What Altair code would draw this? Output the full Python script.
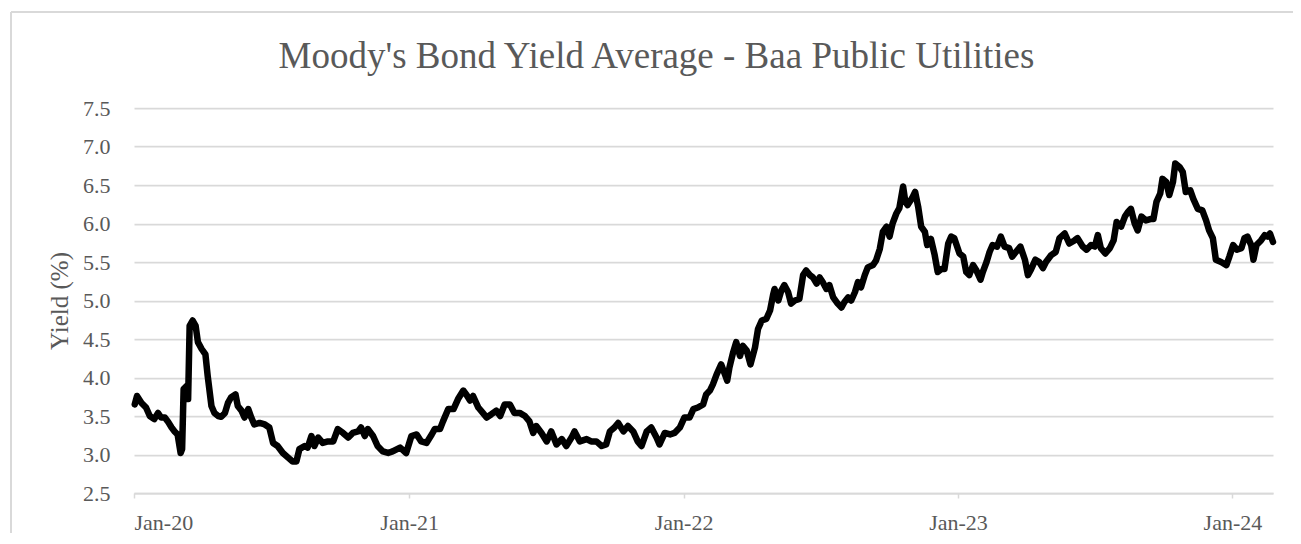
import altair as alt
import pandas as pd

# Days since 2020-01-01
days = [1, 4, 10, 16, 21, 27, 32, 36, 41, 45, 50, 54, 58, 62, 64, 66, 70, 72, 74, 78,
        82, 85, 90, 95, 98, 103, 107, 112, 116, 121, 125, 129, 135, 138, 143, 147, 152, 156, 160, 167,
        174, 180, 185, 191, 198, 205, 211, 216, 220, 227, 231, 236, 240, 245, 251, 258, 265, 271, 278, 285,
        291, 298, 302, 307, 311, 318, 324, 331, 338, 344,
        354, 362, 369, 376, 382, 389, 396, 400, 407, 411, 418, 425, 431, 438, 442, 447, 451, 458, 464, 469,
        475, 482, 487, 493, 500, 506, 513, 520, 526, 531, 535, 542, 549, 555, 562, 569, 575, 582, 586, 593,
        602, 608, 615, 622, 628, 633, 639, 644, 651, 657, 664, 670, 675, 682, 688, 695, 699, 706, 713,
        719, 726, 732, 739, 744, 750, 757, 761, 766, 770, 775, 781, 786, 789, 792, 797, 801, 806, 810, 815,
        820, 826, 830, 835, 841, 846, 850, 852, 857, 861, 865, 870, 874, 879, 885, 890, 894, 899, 903, 908,
        912, 916, 921, 925, 930, 936, 941, 945, 950, 954, 959, 963, 967, 972, 976, 983, 987, 992, 996, 1001,
        1005, 1009, 1014, 1018, 1023, 1026, 1029, 1035, 1039, 1043, 1047, 1052, 1055, 1060, 1065, 1069, 1074, 1078, 1083,
        1087, 1091, 1098, 1103, 1107, 1111, 1116, 1120, 1126, 1129, 1134, 1138, 1142, 1148, 1153, 1158, 1164, 1168, 1173, 1179,
        1185, 1189, 1193, 1199, 1204, 1209, 1213, 1220, 1226, 1231, 1238, 1244, 1251, 1255, 1262, 1267, 1273, 1278, 1282, 1286,
        1292, 1298, 1303, 1307, 1313, 1318, 1322, 1326, 1331, 1335, 1340, 1346, 1353, 1356, 1360, 1365, 1368, 1373, 1377, 1382,
        1385, 1391, 1395, 1399, 1405, 1409, 1415, 1421, 1426, 1430, 1435, 1439, 1446, 1453, 1457, 1462, 1467, 1473, 1477, 1481,
        1486, 1489, 1493, 1499, 1504, 1508, 1511, 1515]

yields = [3.65, 3.76, 3.67, 3.61, 3.50, 3.46, 3.54, 3.48, 3.48, 3.43, 3.35, 3.30, 3.26, 3.02, 3.07, 3.85, 3.89, 3.72, 4.67, 4.74,
          4.67, 4.46, 4.37, 4.30, 4.02, 3.63, 3.54, 3.50, 3.49, 3.54, 3.67, 3.74, 3.78, 3.63, 3.57, 3.48, 3.59, 3.48, 3.39, 3.41,
          3.39, 3.35, 3.15, 3.11, 3.02, 2.96, 2.91, 2.91, 3.07, 3.11, 3.09, 3.24, 3.11, 3.22, 3.15, 3.17, 3.17, 3.33, 3.28, 3.22,
          3.28, 3.30, 3.35, 3.24, 3.33, 3.24, 3.11, 3.04, 3.02, 3.04,
          3.09, 3.02, 3.24, 3.26, 3.17, 3.15, 3.26, 3.33, 3.33, 3.43, 3.59, 3.59, 3.72, 3.83, 3.78, 3.70, 3.76, 3.61, 3.54, 3.48,
          3.52, 3.57, 3.50, 3.65, 3.65, 3.54, 3.54, 3.50, 3.43, 3.28, 3.37, 3.28, 3.17, 3.30, 3.13, 3.20, 3.11, 3.22, 3.30, 3.17,
          3.20, 3.17, 3.17, 3.11, 3.13, 3.30, 3.35, 3.41, 3.30, 3.37, 3.30, 3.17, 3.11, 3.30, 3.35, 3.22, 3.13, 3.28, 3.26,
          3.28, 3.35, 3.48, 3.48, 3.59, 3.61, 3.65, 3.78, 3.83, 3.91, 4.04, 4.17, 4.04, 3.96, 4.13, 4.33, 4.46, 4.28, 4.41, 4.35,
          4.17, 4.39, 4.63, 4.74, 4.76, 4.87, 5.07, 5.15, 5.00, 5.13, 5.20, 5.11, 4.96, 5.00, 5.02, 5.33, 5.39, 5.33, 5.30, 5.22,
          5.30, 5.24, 5.15, 5.20, 5.04, 4.96, 4.91, 4.98, 5.04, 5.00, 5.11, 5.24, 5.17, 5.33, 5.43, 5.46, 5.52, 5.67, 5.89, 5.96,
          5.83, 6.00, 6.13, 6.20, 6.48, 6.28, 6.24, 6.33, 6.41, 6.22, 5.96, 5.89, 5.72, 5.80, 5.59, 5.37, 5.41, 5.41, 5.74,
          5.83, 5.81, 5.61, 5.57, 5.37, 5.33, 5.46, 5.40, 5.27, 5.37, 5.50, 5.63, 5.72, 5.70, 5.83, 5.70, 5.68, 5.57, 5.63, 5.70,
          5.53, 5.33, 5.40, 5.53, 5.50, 5.42, 5.50, 5.59, 5.63, 5.81, 5.87, 5.74, 5.78, 5.81, 5.70, 5.66, 5.72, 5.70, 5.85, 5.68,
          5.61, 5.68, 5.78, 6.02, 5.96, 6.09, 6.15, 6.19, 6.00, 5.91, 6.09, 6.04, 6.06, 6.06, 6.28, 6.39, 6.58, 6.54, 6.37, 6.54,
          6.78, 6.73, 6.67, 6.41, 6.43, 6.32, 6.19, 6.17, 6.04, 5.91, 5.81, 5.53, 5.50, 5.46, 5.57, 5.72, 5.66, 5.68, 5.81, 5.83,
          5.72, 5.53, 5.72, 5.78, 5.85, 5.83, 5.87, 5.76]

y_ticks = [2.5, 3.0, 3.5, 4.0, 4.5, 5.0, 5.5, 6.0, 6.5, 7.0, 7.5]
x_tick_years = [2020, 2021, 2022, 2023, 2024]

title_text = "Moody's Bond Yield Average - Baa Public Utilities"
y_title = "Yield (%)"

FONT = "Liberation Serif"
GREY = "#595959"
GRID = "#D9D9D9"

df = pd.DataFrame({
    "date": pd.Timestamp("2020-01-01") + pd.to_timedelta(days, unit="D"),
    "yield": yields,
})
df["date"] = df["date"].dt.strftime("%Y-%m-%dT00:00:00")

x_enc = alt.X(
    "date:T",
    scale=alt.Scale(domain=[alt.DateTime(year=2020, month=1, date=1),
                            alt.DateTime(year=2024, month=2, date=24)]),
    axis=alt.Axis(
        title=None,
        values=[alt.DateTime(year=yr, month=1, date=1) for yr in x_tick_years],
        format="%b-%y",
        grid=False,
        domainColor=GRID, domainWidth=1.75,
        tickColor=GRID, tickWidth=1.5, tickSize=5,
        labelFont=FONT, labelFontSize=22, labelColor=GREY,
        labelPadding=14,
    ),
)
y_enc = alt.Y(
    "yield:Q",
    scale=alt.Scale(domain=[2.5, 7.5], nice=False, zero=False),
    axis=alt.Axis(
        title=y_title,
        values=y_ticks,
        format=".1f",
        domain=False, ticks=False, tickSize=0,
        gridColor=GRID, gridWidth=1.75,
        labelFont=FONT, labelFontSize=22, labelColor=GREY,
        labelPadding=24,
        titleFont=FONT, titleFontSize=25, titleColor=GREY, titleFontWeight="normal",
        titleX=-62, titleAngle=270, titleBaseline="bottom",
    ),
)

line = alt.Chart(df).mark_line(
    color="black", strokeWidth=6.5, strokeJoin="round", strokeCap="round"
).encode(x=x_enc, y=y_enc)

frame_df = pd.DataFrame({"k": [0]})
left_border = alt.Chart(frame_df).mark_rule(color=GRID, strokeWidth=2).encode(
    x=alt.value(-123), y=alt.value(-96), y2=alt.value(440)
)
top_border = alt.Chart(frame_df).mark_rule(color=GRID, strokeWidth=2).encode(
    x=alt.value(-123), x2=alt.value(1170), y=alt.value(-96)
)

chart = alt.layer(line, left_border, top_border).properties(
    width=1139,
    height=385,
    title=alt.TitleParams(
        text=title_text, font=FONT, fontSize=37, color=GREY, fontWeight="normal",
        anchor="middle", frame="group", dx=-47, dy=95, offset=30,
    ),
    autosize=alt.AutoSizeParams(type="none"),
    padding={"left": 126, "top": 100, "right": 20, "bottom": 40},
).configure_view(stroke=None)

chart.save("out.html", embed_options={"renderer": "svg", "actions": False})
